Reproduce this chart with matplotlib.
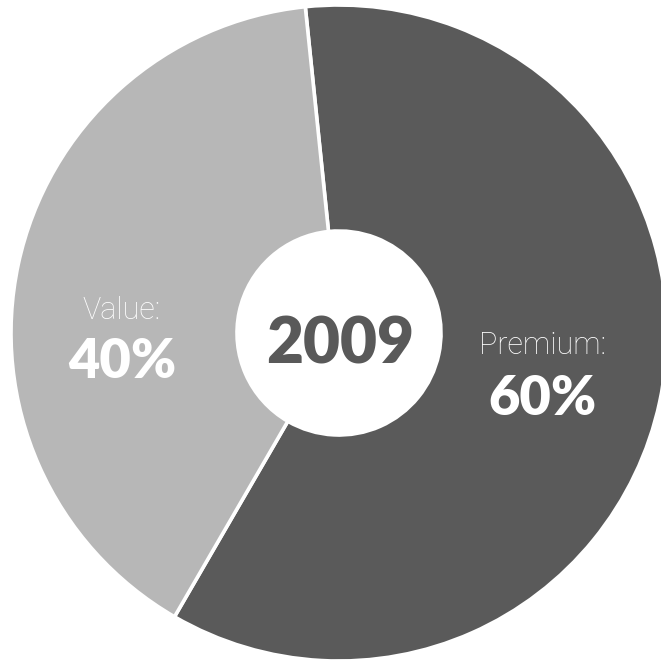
import matplotlib
matplotlib.use("Agg")
import matplotlib.pyplot as plt

categories = ["Premium", "Value"]
shares = [60, 40]
colors = ["#5a5a5a", "#b7b7b7"]
center_label = "2009"

W, H = 661, 662
fig = plt.figure(figsize=(W / 100, H / 100), dpi=100)
ax = fig.add_axes([0, 0, 1, 1])
ax.axis("off")

cx, cy, R = 339, 333, 328  # pixel centre and radius


def px(x, y):
    return (x - cx) / R, (cy - y) / R


ax.pie(shares, colors=colors, startangle=95.9, counterclock=False,
       radius=1.0, wedgeprops=dict(width=1 - 102 / 328, edgecolor="white", linewidth=2.6))

ax.set_xlim(-cx / R, (W - cx) / R)
ax.set_ylim(-(H - cy) / R, cy / R)
ax.set_aspect("auto")

fam = ["Lato", "DejaVu Sans"]
fam_light = ["Roboto", "DejaVu Sans"]
x, y = px(340.5, 363)
ax.text(x, y, center_label, ha="center", va="baseline", fontsize=46,
        fontweight="heavy", color="#595959", family=fam)

# Value label
x, y = px(122, 319)
ax.text(x, y, f"{categories[1]}:", ha="center", va="baseline", fontsize=22,
        fontweight="light", color="white", family=fam_light)
x, y = px(122, 378)
ax.text(x, y, f"{shares[1]}%", ha="center", va="baseline", fontsize=39,
        fontweight="heavy", color="white", family=fam)

# Premium label
x, y = px(543, 354)
ax.text(x, y, f"{categories[0]}:", ha="center", va="baseline", fontsize=22,
        fontweight="light", color="white", family=fam_light)
x, y = px(543, 415)
ax.text(x, y, f"{shares[0]}%", ha="center", va="baseline", fontsize=39,
        fontweight="heavy", color="white", family=fam)

fig.savefig("out.png", dpi=100, facecolor="white")
